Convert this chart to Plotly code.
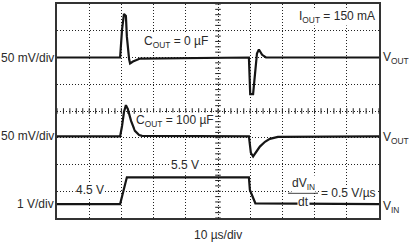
import plotly.graph_objects as go

# time in microseconds (10 us/div), vertical in divisions (0..8)
vout1_t = [0, 19.6, 20.2, 20.8, 21.4, 21.7, 22.4, 22.7, 23.6, 25.8, 59.6, 59.8, 60.0, 60.9, 61.5, 62.1, 62.7, 63.7, 64.9, 100]
vout1_v = [6.0, 6.0, 7.04, 7.63, 7.55, 6.78, 5.93, 5.78, 5.85, 5.96, 6.0, 5.1, 4.63, 4.63, 5.3, 6.15, 6.3, 6.1, 6.0, 6.0]

vout2_t = [0, 19.6, 20.2, 20.8, 21.4, 22.0, 23.0, 24.2, 25.5, 26.4, 59.6, 60.0, 60.2, 60.9, 61.8, 63.0, 64.6, 66.1, 68.6, 100]
vout2_v = [3.05, 3.05, 3.44, 3.96, 4.22, 4.07, 3.63, 3.26, 3.1, 3.07, 3.05, 2.70, 2.44, 2.30, 2.44, 2.67, 2.85, 2.96, 3.03, 3.05]

vin_t = [0, 19.6, 21.7, 59.6, 59.9, 61.6, 100]
vin_v = [0.52, 0.52, 1.52, 1.52, 1.05, 0.55, 0.52]

left_labels = ["50 mV/div", "50 mV/div", "1 V/div"]
left_label_y = [6.0, 3.05, 0.52]
right_labels = ["V<sub>OUT</sub>", "V<sub>OUT</sub>", "V<sub>IN</sub>"]
x_title = "10 µs/div"

W, H = 411, 242
L, R, T, B = 57, 32, 2, 24
pw, ph = W - L - R, H - T - B

def px2x(px):
    return (px - L) / pw * 100

def py2y(py):
    return (T + ph - py) / ph * 8

TXT = "#2a2a2a"
FONT = "Liberation Sans, Arial, sans-serif"

fig = go.Figure()

# center graticule tick marks
fig.add_trace(go.Scatter(x=[i * 2 for i in range(51)], y=[4] * 51, mode="markers",
                         marker=dict(symbol="line-ns-open", size=4, color="#222", line=dict(width=1, color="#222")),
                         hoverinfo="skip", showlegend=False))
fig.add_trace(go.Scatter(x=[50] * 41, y=[i * 0.2 for i in range(41)], mode="markers",
                         marker=dict(symbol="line-ew-open", size=4, color="#222", line=dict(width=1, color="#222")),
                         hoverinfo="skip", showlegend=False))

for t, v in [(vout1_t, vout1_v), (vout2_t, vout2_v), (vin_t, vin_v)]:
    fig.add_trace(go.Scatter(x=t, y=v, mode="lines", line=dict(color="#151515", width=2.2),
                             hoverinfo="skip", showlegend=False))

ann = []
for txt, y in zip(left_labels, left_label_y):
    ann.append(dict(text=txt, xref="paper", x=0, xanchor="right", xshift=-2, yref="y", y=y,
                    yanchor="middle", showarrow=False))
for txt, y in zip(right_labels, [6.0, 3.0, 0.4]):
    ann.append(dict(text=txt, xref="paper", x=1, xanchor="left", xshift=3, yref="y", y=y,
                    yanchor="middle", showarrow=False))
ann.append(dict(text=x_title, xref="paper", x=0.5, xanchor="center", yref="paper", y=0,
                yanchor="middle", yshift=-17, showarrow=False))

ann.append(dict(text="I<sub>OUT</sub> = 150 mA", x=px2x(376), xanchor="right", y=py2y(15),
                yanchor="middle", showarrow=False, bgcolor="white"))
ann.append(dict(text="C<sub>OUT</sub> = 0 µF", x=px2x(143), xanchor="left", y=py2y(40),
                yanchor="middle", showarrow=False, bgcolor="white"))
ann.append(dict(text="C<sub>OUT</sub> = 100 µF", x=px2x(135), xanchor="left", y=py2y(120),
                yanchor="middle", showarrow=False, bgcolor="white"))
ann.append(dict(text="5.5 V", x=px2x(170), xanchor="left", y=py2y(165),
                yanchor="middle", showarrow=False, bgcolor="white"))
ann.append(dict(text="4.5 V", x=px2x(75), xanchor="left", y=py2y(190),
                yanchor="middle", showarrow=False, bgcolor="white"))
ann.append(dict(text="dV<sub>IN</sub>", x=px2x(303), xanchor="center", y=py2y(184),
                yanchor="middle", showarrow=False, bgcolor="white"))
ann.append(dict(text="dt", x=px2x(303), xanchor="center", y=py2y(202),
                yanchor="middle", showarrow=False, bgcolor="white"))
ann.append(dict(text="= 0.5 V/µs", x=px2x(320), xanchor="left", y=py2y(193),
                yanchor="middle", showarrow=False, bgcolor="white"))

fig.add_shape(type="line", x0=px2x(288), x1=px2x(318), y0=py2y(193), y1=py2y(193),
              line=dict(color=TXT, width=1))

axis_common = dict(showgrid=True, gridcolor="#222", griddash="1px,2px", gridwidth=1,
                   showticklabels=False, ticks="", zeroline=False, showline=True,
                   linecolor="#333", linewidth=2, mirror=True, fixedrange=True)

fig.update_layout(
    width=W, height=H, margin=dict(l=L, r=R, t=T, b=B),
    paper_bgcolor="white", plot_bgcolor="white",
    font=dict(family=FONT, size=12, color=TXT),
    xaxis=dict(range=[0, 100], dtick=10, **axis_common),
    yaxis=dict(range=[0, 8], dtick=1, **axis_common),
    annotations=ann,
)
for a in fig.layout.annotations:
    a.borderpad = 0

fig.write_html("out.html")
